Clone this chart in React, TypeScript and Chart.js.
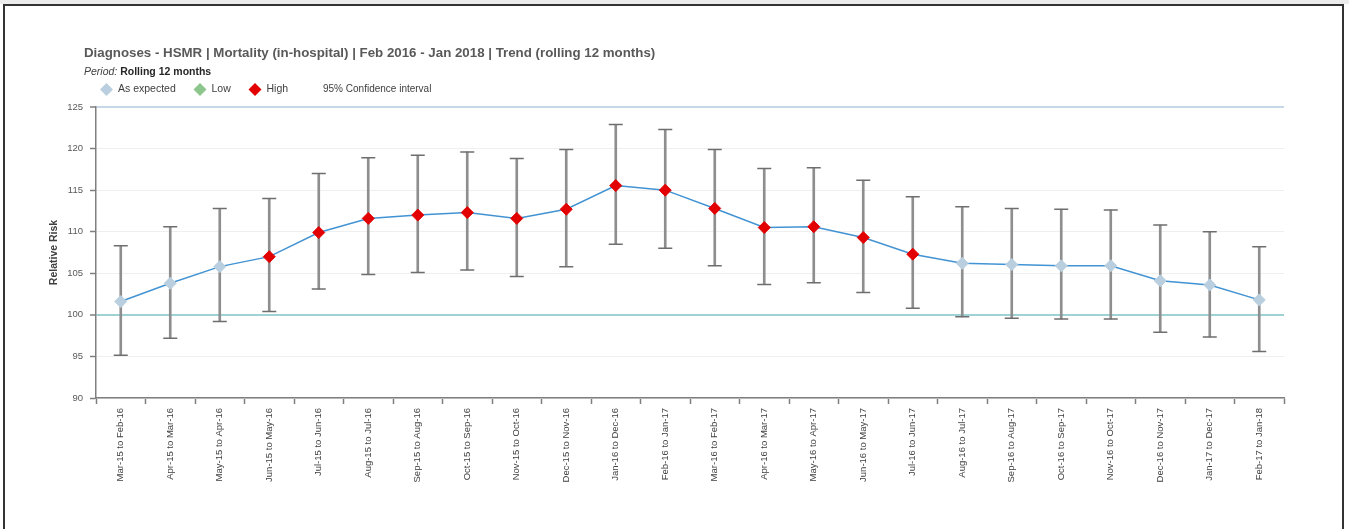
import React, { useEffect, useRef } from "react";
import { Chart, registerables } from "chart.js";

Chart.register(...registerables);

// Rolling 12-month windows
const periods = [
  "Mar-15 to Feb-16",
  "Apr-15 to Mar-16",
  "May-15 to Apr-16",
  "Jun-15 to May-16",
  "Jul-15 to Jun-16",
  "Aug-15 to Jul-16",
  "Sep-15 to Aug-16",
  "Oct-15 to Sep-16",
  "Nov-15 to Oct-16",
  "Dec-15 to Nov-16",
  "Jan-16 to Dec-16",
  "Feb-16 to Jan-17",
  "Mar-16 to Feb-17",
  "Apr-16 to Mar-17",
  "May-16 to Apr-17",
  "Jun-16 to May-17",
  "Jul-16 to Jun-17",
  "Aug-16 to Jul-17",
  "Sep-16 to Aug-17",
  "Oct-16 to Sep-17",
  "Nov-16 to Oct-17",
  "Dec-16 to Nov-17",
  "Jan-17 to Dec-17",
  "Feb-17 to Jan-18",
];

// HSMR relative risk per window
const relativeRisk = [
  101.6, 103.8, 105.8, 107.0, 109.9, 111.6, 112.0, 112.3, 111.6, 112.7, 115.55, 115.0,
  112.8, 110.5, 110.6, 109.3, 107.3, 106.2, 106.05, 105.9, 105.9, 104.1, 103.6, 101.8,
];

// 95% confidence interval bounds
const ciLower = [
  95.15, 97.2, 99.2, 100.4, 103.1, 104.85, 105.1, 105.4, 104.6, 105.8, 108.5, 108.0,
  105.9, 103.65, 103.85, 102.7, 100.8, 99.76, 99.6, 99.5, 99.5, 97.9, 97.35, 95.6,
];
const ciUpper = [
  108.3, 110.6, 112.8, 114.0, 117.0, 118.9, 119.2, 119.6, 118.8, 119.9, 122.9, 122.3,
  119.9, 117.6, 117.7, 116.2, 114.2, 113.0, 112.8, 112.7, 112.6, 110.8, 110.0, 108.2,
];

// Outcome band of each window
const outcome = [
  "expected", "expected", "expected", "high", "high", "high", "high", "high",
  "high", "high", "high", "high", "high", "high", "high", "high",
  "high", "expected", "expected", "expected", "expected", "expected", "expected", "expected",
];

const yTicks = [90, 95, 100, 105, 110, 115, 120, 125];
const benchmark = 100;

const COLORS: Record<string, string> = {
  expected: "#b9cfdf",
  low: "#8cc68c",
  high: "#e20000",
};

const legendItems = [
  { label: "As expected", key: "expected" },
  { label: "Low", key: "low" },
  { label: "High", key: "high" },
  { label: "95% Confidence interval", key: "" },
];

const FONT = "'Liberation Sans', Arial, sans-serif";

const legendPlugin = {
  id: "statusLegend",
  afterDraw(chart: Chart) {
    const ctx = chart.ctx;
    const y = 89.5;
    const positions = [106.5, 200, 255, 323];
    ctx.save();
    ctx.textBaseline = "middle";
    ctx.fillStyle = "#404040";
    legendItems.forEach((item, i) => {
      const cx = positions[i];
      if (item.key) {
        const r = 6.5;
        ctx.beginPath();
        ctx.moveTo(cx - r, y);
        ctx.lineTo(cx, y - r);
        ctx.lineTo(cx + r, y);
        ctx.lineTo(cx, y + r);
        ctx.closePath();
        ctx.fillStyle = COLORS[item.key];
        ctx.fill();
        ctx.fillStyle = "#404040";
        ctx.font = `10.5px ${FONT}`;
        ctx.fillText(item.label, cx + 11.5, y);
      } else {
        ctx.font = `10px ${FONT}`;
        ctx.fillText(item.label, cx, y);
      }
    });
    ctx.restore();
  },
};

export default function App() {
  const canvasRef = useRef<HTMLCanvasElement | null>(null);

  useEffect(() => {
    const canvas = canvasRef.current;
    if (!canvas) return;
    const lastBoundary = periods.length;

    const chart = new Chart(canvas, {
      type: "bar",
      data: {
        labels: periods,
        datasets: [
          {
            type: "line",
            label: "Relative Risk",
            data: relativeRisk,
            borderColor: "#4293d3",
            borderWidth: 1.5,
            pointStyle: "rectRot",
            pointRadius: 6,
            pointBorderWidth: 1,
            pointBackgroundColor: outcome.map((o) => COLORS[o]),
            pointBorderColor: outcome.map((o) => COLORS[o]),
            tension: 0,
            order: 0,
          },
          {
            type: "line",
            label: "CI upper",
            data: ciUpper,
            showLine: false,
            pointStyle: "line",
            pointRadius: 7,
            pointBorderWidth: 1.5,
            pointBorderColor: "#6e6e6e",
            order: 1,
          },
          {
            type: "line",
            label: "CI lower",
            data: ciLower,
            showLine: false,
            pointStyle: "line",
            pointRadius: 7,
            pointBorderWidth: 1.5,
            pointBorderColor: "#6e6e6e",
            order: 2,
          },
          {
            type: "bar",
            label: "95% Confidence interval",
            data: ciLower.map((lo, i) => [lo, ciUpper[i]]),
            backgroundColor: "#8e8e8e",
            barThickness: 2,
            order: 3,
          } as any,
        ],
      },
      options: {
        responsive: false,
        animation: false,
        devicePixelRatio: 1,
        events: [],
        layout: { padding: { left: 44, right: 65, top: 107, bottom: 0 } },
        plugins: {
          legend: { display: false },
          tooltip: { enabled: false },
        },
        scales: {
          x: {
            type: "category",
            offset: true,
            afterFit: (scale: any) => {
              scale.height = 131;
            },
            grid: {
              offset: true,
              drawOnChartArea: true,
              color: (c: any) => (c.index === lastBoundary ? "#c6d7e7" : "rgba(0,0,0,0)"),
              lineWidth: (c: any) => (c.index === lastBoundary ? 2 : 1),
              tickColor: "#7f7f7f",
              tickWidth: 1.5,
              tickLength: 6,
            },
            border: { color: "#7f7f7f", width: 1.5 },
            ticks: {
              minRotation: 90,
              maxRotation: 90,
              autoSkip: false,
              padding: 4,
              color: "#404040",
              font: { family: FONT, size: 9.5 },
            },
          },
          y: {
            min: 90,
            max: 125,
            afterFit: (scale: any) => {
              scale.width = 52;
            },
            afterBuildTicks: (scale: any) => {
              scale.ticks = yTicks.map((v) => ({ value: v }));
            },
            grid: {
              color: (c: any) => {
                const v = c.tick && c.tick.value;
                if (v === benchmark) return "#9fd2d5";
                if (v === 125) return "#c6d7e7";
                return "#efefef";
              },
              lineWidth: (c: any) => {
                const v = c.tick && c.tick.value;
                return v === benchmark || v === 125 ? 2 : 1;
              },
              tickColor: "#7f7f7f",
              tickWidth: 1.5,
              tickLength: 6,
            },
            border: { color: "#7f7f7f", width: 1.5 },
            ticks: {
              padding: 7,
              color: "#595959",
              font: { family: FONT, size: 9.5 },
            },
            title: {
              display: true,
              text: "Relative Risk",
              color: "#404040",
              font: { family: FONT, size: 10.5, weight: "bold" },
            },
          },
        },
      },
      plugins: [legendPlugin],
    });

    return () => chart.destroy();
  }, []);

  return (
    <div
      style={{
        position: "fixed",
        left: 0,
        top: 0,
        width: 1349,
        height: 529,
        background: "#ffffff",
        overflow: "hidden",
        fontFamily: FONT,
      }}
    >
      <div style={{ position: "absolute", left: 0, top: 0, width: 1349, height: 4, background: "#ececec" }} />
      <canvas ref={canvasRef} width={1349} height={529} style={{ position: "absolute", left: 0, top: 0 }} />
      <div
        style={{
          position: "absolute",
          left: 84,
          top: 45,
          fontSize: 13.3,
          lineHeight: "15px",
          fontWeight: "bold",
          color: "#595959",
          whiteSpace: "nowrap",
        }}
      >
        Diagnoses - HSMR | Mortality (in-hospital) | Feb 2016 - Jan 2018 | Trend (rolling 12 months)
      </div>
      <div
        style={{
          position: "absolute",
          left: 84,
          top: 64,
          fontSize: 10.5,
          lineHeight: "14px",
          color: "#262626",
          whiteSpace: "nowrap",
        }}
      >
        <span style={{ fontStyle: "italic", color: "#404040" }}>Period</span>
        <span style={{ fontStyle: "italic", color: "#404040" }}>:</span>{" "}
        <span style={{ fontWeight: "bold" }}>Rolling 12 months</span>
      </div>
      <div
        style={{
          position: "absolute",
          left: 3,
          top: 4,
          width: 1341,
          height: 600,
          boxSizing: "border-box",
          borderTop: "2px solid #333333",
          borderLeft: "2px solid #333333",
          borderRight: "2px solid #333333",
          pointerEvents: "none",
        }}
      />
    </div>
  );
}
